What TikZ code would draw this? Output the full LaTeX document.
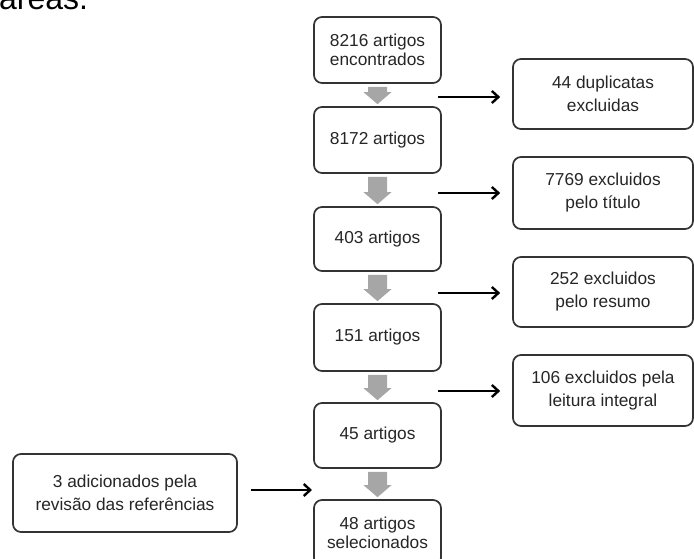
\documentclass[tikz,border=0pt]{standalone}
\usepackage{fontspec}
\setmainfont{Liberation Sans}
\usetikzlibrary{calc,arrows.meta}
\tikzset{
  box/.style={draw=black!80, line width=1.7pt, rounded corners=8pt, fill=white,
    align=center, inner sep=0pt, text=black!85, font=\fontsize{17.3}{18.5}\selectfont},
  mainbox/.style={box, minimum width=127pt},
  sidebox/.style={box, minimum width=180pt, font=\fontsize{17.3}{23}\selectfont},
  conn/.style={line width=2.2pt, -{Straight Barb[length=6.5pt,width=12pt,line width=2.4pt]}},
  garrow/.style={fill=black!35},
}
\newcommand\grayarr[2]{%
  \fill[garrow] ($(#1.south)+(-9.5,3)$) -- ($(#1.south)+(9.5,3)$)
    -- ($(#2.north)+(9.5,-14)$) -- ($(#2.north)+(14,-14)$)
    -- ($(#2.north)+(0,-2)$) -- ($(#2.north)+(-14,-14)$)
    -- ($(#2.north)+(-9.5,-14)$) -- cycle;}
\begin{document}
\begin{tikzpicture}[x=1pt,y=-1pt]
\useasboundingbox (0,0) rectangle (694,559);
\clip (0,0) rectangle (694,559);
\node[anchor=base west, inner sep=0pt, font=\fontsize{32}{32}\selectfont] (top) at (-1,9.5) {áreas.};
% main column
\node[mainbox, minimum height=66pt] (b1) at (377.5,50) {8216 artigos\\encontrados};
\node[mainbox, minimum height=66pt] (b2) at (377.5,140) {8172 artigos};
\node[mainbox, minimum height=64pt] (b3) at (377.5,239) {403 artigos};
\node[mainbox, minimum height=67pt] (b4) at (377.5,337.5) {151 artigos};
\node[mainbox, minimum height=65pt] (b5) at (377.5,435.5) {45 artigos};
\node[mainbox, minimum height=66pt] (b6) at (377.5,533) {48 artigos\\selecionados};
% side boxes
\node[sidebox, minimum height=70pt] (r1) at (603,94) {44 duplicatas\\excluidas};
\node[sidebox, minimum height=72pt] (r2) at (603,193) {7769 excluidos\\pelo título};
\node[sidebox, minimum height=70pt] (r3) at (603,292) {252 excluidos\\pelo resumo};
\node[sidebox, minimum height=71pt] (r4) at (603,390.5) {106 excluidos pela\\leitura integral};
\node[sidebox, minimum width=224pt, minimum height=78pt] (l1) at (125,493) {3 adicionados pela\\revisão das referências};
% gray arrows
\grayarr{b1}{b2}
\grayarr{b2}{b3}
\grayarr{b3}{b4}
\grayarr{b4}{b5}
\grayarr{b5}{b6}
% connectors
\coordinate (s1) at (438,97);
\coordinate (s2) at (438,193);
\coordinate (s3) at (438,293);
\coordinate (s4) at (438,391);
\coordinate (e5) at (312,490);
\draw[conn, shorten >=12pt] (s1) -- (r1.west|-s1);
\draw[conn, shorten >=12pt] (s2) -- (r2.west|-s2);
\draw[conn, shorten >=12pt] (s3) -- (r3.west|-s3);
\draw[conn, shorten >=12pt] (s4) -- (r4.west|-s4);
\draw[conn, shorten <=13pt] (l1.east|-e5) -- (e5);
\end{tikzpicture}
\end{document}
